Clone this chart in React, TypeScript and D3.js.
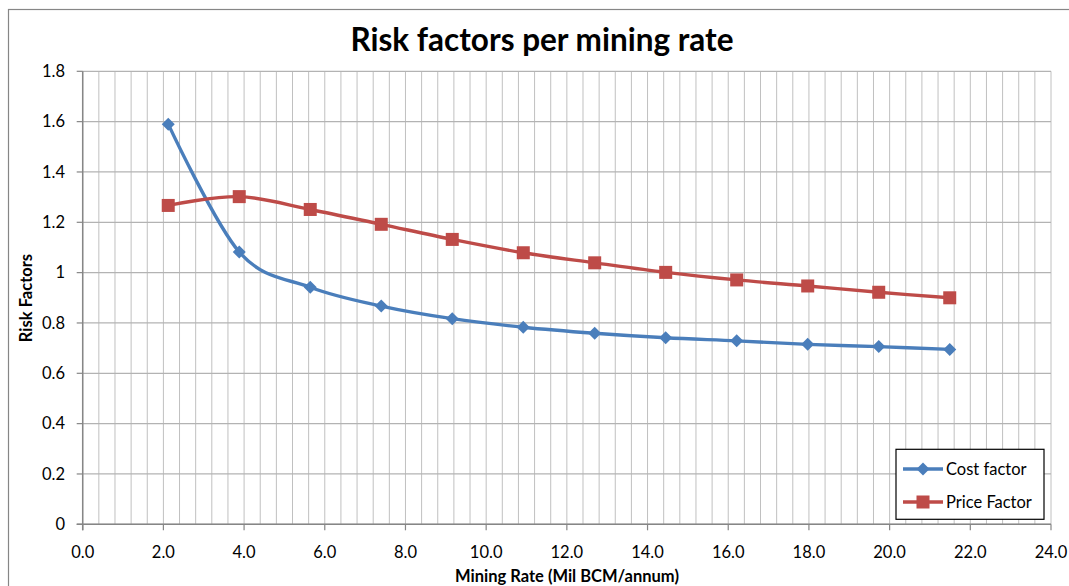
import React from "react";
import * as d3 from "d3";

const miningRate = [2.12, 3.88, 5.64, 7.4, 9.16, 10.92, 12.69, 14.45, 16.21, 17.97, 19.73, 21.49];
const costFactor = [1.59, 1.082, 0.942, 0.867, 0.817, 0.783, 0.759, 0.741, 0.729, 0.715, 0.706, 0.695];
const priceFactor = [1.267, 1.302, 1.251, 1.192, 1.132, 1.079, 1.039, 1.001, 0.971, 0.947, 0.922, 0.9];
const xTicks = [0, 2, 4, 6, 8, 10, 12, 14, 16, 18, 20, 22, 24];
const yTicks = [0, 0.2, 0.4, 0.6, 0.8, 1, 1.2, 1.4, 1.6, 1.8];
const seriesNames = ["Cost factor", "Price Factor"];

const W = 1069, H = 586;
const left = 82.7, right = 1051, top = 71.3, bottom = 524.3;
const FONT = "Lato, 'Open Sans', sans-serif";
const BLUE = "#4A7EBB", RED = "#BE4B48";

export default function App() {
  const x = d3.scaleLinear().domain([0, 24]).range([left, right]);
  const y = d3.scaleLinear().domain([0, 1.8]).range([bottom, top]);
  const minorX = d3.range(0, 24.0001, 0.4);
  const line = d3.line<number>().x((_, i) => x(miningRate[i])).y((d) => y(d)).curve(d3.curveCatmullRom.alpha(0));
  const diamond = (cx: number, cy: number, r: number) => `M${cx},${cy - r}L${cx + r},${cy}L${cx},${cy + r}L${cx - r},${cy}Z`;
  const legX = 896, legY = 449.3, legW = 148, legH = 70;
  return (
    <svg width={W} height={H} style={{ position: "absolute", left: 0, top: 0, background: "#fff" }} fontFamily={FONT}>
      <rect x={8.5} y={9.5} width={1200} height={700} fill="#fff" stroke="#868686" strokeWidth={1.2} />
      <text x={542} y={51} textAnchor="middle" fontSize={31.5} fontWeight="bold" fill="#000">Risk factors per mining rate</text>
      {/* grid */}
      {minorX.map((v, i) => (
        <line key={"gx" + i} x1={x(v)} x2={x(v)} y1={top} y2={bottom} stroke="#C0C0C0" strokeWidth={1} />
      ))}
      {yTicks.map((v, i) => (
        <line key={"gy" + i} x1={left} x2={right} y1={y(v)} y2={y(v)} stroke="#B3B3B3" strokeWidth={1.2} />
      ))}
      {/* axes */}
      <line x1={left} x2={left} y1={top} y2={bottom + 6} stroke="#868686" strokeWidth={1.5} />
      <line x1={left - 6} x2={right} y1={bottom} y2={bottom} stroke="#868686" strokeWidth={1.5} />
      {yTicks.map((v, i) => (
        <g key={"yt" + i}>
          <line x1={left - 6} x2={left} y1={y(v)} y2={y(v)} stroke="#868686" strokeWidth={1.2} />
          <text x={65} y={y(v)} dy="0.35em" textAnchor="end" fontSize={16.5} fill="#000">{String(v)}</text>
        </g>
      ))}
      {xTicks.map((v, i) => (
        <g key={"xt" + i}>
          <line x1={x(v)} x2={x(v)} y1={bottom} y2={bottom + 6} stroke="#868686" strokeWidth={1.2} />
          <text x={x(v)} y={552} dy="0.35em" textAnchor="middle" fontSize={16.5} fill="#000">{v.toFixed(1)}</text>
        </g>
      ))}
      <text x={567} y={576} dy="0.35em" textAnchor="middle" fontSize={16.5} fontWeight="bold" fill="#000">Mining Rate (Mil BCM/annum)</text>
      <text transform={`translate(26,298) rotate(-90)`} dy="0.35em" textAnchor="middle" fontSize={16.5} fontWeight="bold" fill="#000">Risk Factors</text>
      {/* series */}
      <path d={line(costFactor) || ""} fill="none" stroke={BLUE} strokeWidth={3.4} />
      <path d={line(priceFactor) || ""} fill="none" stroke={RED} strokeWidth={3.4} />
      {costFactor.map((v, i) => (
        <path key={"cm" + i} d={diamond(x(miningRate[i]), y(v), 6.5)} fill={BLUE} />
      ))}
      {priceFactor.map((v, i) => (
        <rect key={"pm" + i} x={x(miningRate[i]) - 6.5} y={y(v) - 6.5} width={13} height={13} fill={RED} />
      ))}
      {/* legend */}
      <rect x={legX} y={legY} width={legW} height={legH} fill="#fff" stroke="#000" strokeWidth={1.2} />
      <line x1={903} x2={943} y1={469} y2={469} stroke={BLUE} strokeWidth={3.4} />
      <path d={diamond(923, 469, 6.5)} fill={BLUE} />
      <text x={946} y={469} dy="0.35em" fontSize={16.5} fill="#000">{seriesNames[0]}</text>
      <line x1={903} x2={943} y1={502} y2={502} stroke={RED} strokeWidth={3.4} />
      <rect x={916.5} y={495.5} width={13} height={13} fill={RED} />
      <text x={946} y={502} dy="0.35em" fontSize={16.5} fill="#000">{seriesNames[1]}</text>
    </svg>
  );
}
